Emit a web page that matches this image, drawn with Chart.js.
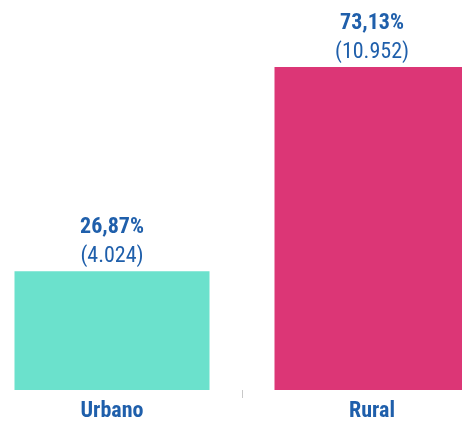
<!DOCTYPE html>
<html>
<head>
<meta charset="utf-8">
<script src="https://cdn.jsdelivr.net/npm/chart.js@4"></script>
<style>
  html, body { margin: 0; padding: 0; background: #fff; overflow: hidden; }
  #wrap { position: absolute; left: -18px; top: 0; width: 520px; height: 421px; }
</style>
</head>
<body>
<div id="wrap"><canvas id="chart" width="520" height="421"></canvas></div>
<script>
const categories = ['Urbano', 'Rural'];
const percentages = [26.87, 73.13];
const counts = [4024, 10952];
const barColors = ['#6be1cc', '#dc3676'];

const FONT = "'Liberation Sans Narrow', 'Roboto Condensed', Roboto, sans-serif";
const TEXT_BLUE = '#1f5fab';

function fmtPct(v) {
  return v.toFixed(2).replace('.', ',') + '%';
}
function fmtCount(v) {
  return '(' + String(v).replace(/\B(?=(\d{3})+(?!\d))/g, '.') + ')';
}

// labels above each bar: percentage (bold) and count
const barLabels = {
  id: 'barLabels',
  afterDatasetsDraw(chart) {
    const ctx = chart.ctx;
    const meta = chart.getDatasetMeta(0);
    ctx.save();
    ctx.textAlign = 'center';
    ctx.textBaseline = 'middle';
    ctx.fillStyle = TEXT_BLUE;
    meta.data.forEach((bar, i) => {
      ctx.font = 'bold 22px ' + FONT;
      ctx.fillText(fmtPct(percentages[i]), bar.x, bar.y - 44);
      ctx.font = '22px ' + FONT;
      ctx.fillText(fmtCount(counts[i]), bar.x, bar.y - 15);
    });
    ctx.restore();
  }
};

new Chart(document.getElementById('chart').getContext('2d'), {
  type: 'bar',
  data: {
    labels: categories,
    datasets: [{
      data: percentages,
      backgroundColor: barColors,
      borderWidth: 0,
      categoryPercentage: 1,
      barPercentage: 0.75
    }]
  },
  options: {
    responsive: false,
    animation: false,
    layout: { padding: { top: 67, left: 0, right: 0, bottom: 0 } },
    plugins: { legend: { display: false }, tooltip: { enabled: false } },
    scales: {
      y: { display: false, min: 0, max: 73.13 },
      x: {
        afterFit(scale) { scale.height = 31; },
        border: { display: false },
        grid: {
          offset: true,
          drawOnChartArea: false,
          drawTicks: true,
          tickLength: 8,
          color: '#c8c8c8',
          lineWidth: 1
        },
        ticks: {
          padding: 0,
          color: TEXT_BLUE,
          font: { family: FONT, size: 22, weight: 'bold' }
        }
      }
    }
  },
  plugins: [barLabels]
});
</script>
</body>
</html>
